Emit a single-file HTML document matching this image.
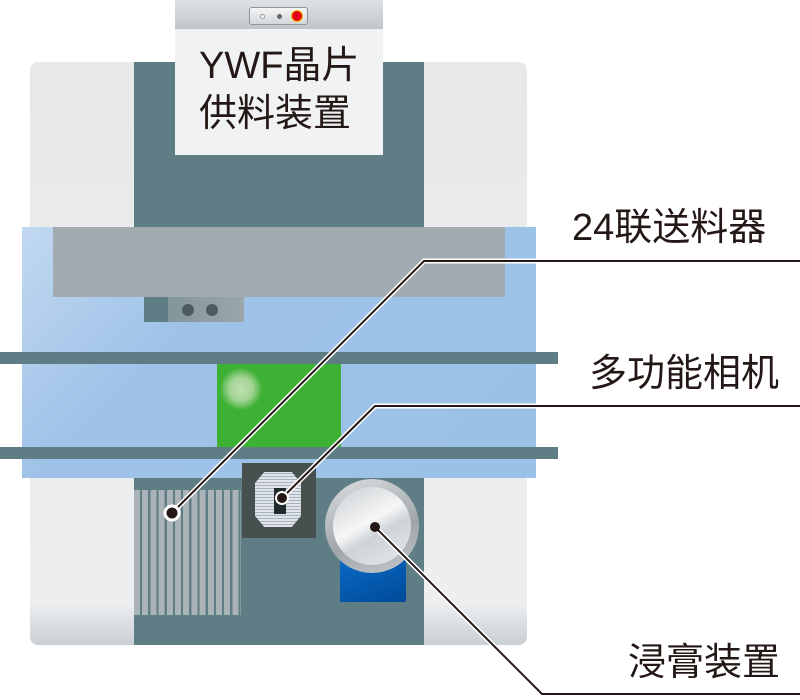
<!DOCTYPE html>
<html><head><meta charset="utf-8"><style>
html,body{margin:0;padding:0;background:#fff;}
body{width:800px;height:700px;position:relative;overflow:hidden;font-family:"Liberation Sans","Noto Sans CJK SC",sans-serif;}
div{position:absolute;box-sizing:border-box;}
.lbl{color:#231815;font-size:38px;white-space:nowrap;line-height:1;}
</style></head><body>
<div style="left:30px;top:62px;width:497px;height:583px;border-radius:8px;background:linear-gradient(#e6e8ea 0%,#eceef0 93%,#c9cfd2 100%);"></div>
<div style="left:134px;top:62px;width:290px;height:583px;background:#5f7d85;"></div>
<div style="left:175px;top:0;width:208px;height:155px;background:#f1f2f3;"></div>
<div style="left:175px;top:0;width:208px;height:29px;background:linear-gradient(#e0e3e5,#bfc5c8);"></div>
<div style="left:249px;top:7px;width:59px;height:18px;border:1px solid #8d9599;border-radius:3px;background:linear-gradient(#f4f5f6,#d3d7d9);"></div>
<div style="left:260px;top:14px;width:5px;height:5px;border-radius:50%;border:1px solid #999;background:#fff;"></div>
<div style="left:277px;top:14px;width:5px;height:5px;border-radius:50%;background:#666;"></div>
<div style="left:291px;top:10px;width:12px;height:12px;border-radius:50%;background:#e50012;border:1.5px solid #f3c300;"></div>
<div class="lbl" style="left:199px;top:47px;">YWF晶片</div>
<div class="lbl" style="left:199px;top:95px;">供料装置</div>
<div style="left:22px;top:227px;width:514px;height:251px;background:linear-gradient(135deg,#c2d8f0 0%,#9ec2e8 35%,#9cc1e7 100%);"></div>
<div style="left:53px;top:227px;width:452px;height:70px;background:#a1abb0;"></div>
<div style="left:144px;top:297px;width:100px;height:25px;background:linear-gradient(90deg,#7b9196,#9aa6aa);"></div>
<div style="left:144px;top:297px;width:24px;height:25px;background:#5f7d85;"></div>
<div style="left:182px;top:304px;width:12px;height:12px;border-radius:50%;background:#4d5b5e;"></div>
<div style="left:206px;top:304px;width:12px;height:12px;border-radius:50%;background:#4d5b5e;"></div>
<div style="left:0;top:352px;width:558px;height:12px;background:#5f7d85;"></div>
<div style="left:0;top:447px;width:558px;height:12px;background:#5f7d85;"></div>
<div style="left:217px;top:364px;width:124px;height:83px;background:#3db134;"></div>
<div style="left:220px;top:368px;width:42px;height:42px;border-radius:50%;background:radial-gradient(circle,#c0e0b2 0%,#a2d394 40%,rgba(61,177,52,0) 72%);"></div>
<div style="left:134px;top:478px;width:290px;height:167px;background:#5f7d85;"></div>
<div style="left:134px;top:490px;width:107px;height:125px;background:repeating-linear-gradient(90deg,#a9b3b8 0 6px,#5f7d85 6px 8.2px);"></div>
<div style="left:242px;top:463px;width:74px;height:75px;background:#48504f;"></div>
<div style="left:255px;top:472px;width:46px;height:55px;background:repeating-linear-gradient(0deg,#dfe5ea 0 2px,#a9b2b8 2px 3px);clip-path:polygon(20% 0,80% 0,100% 20%,100% 80%,80% 100%,20% 100%,0 80%,0 20%);"></div>
<div style="left:274px;top:488px;width:12px;height:26px;background:#1f2a2c;"></div>
<div style="left:340px;top:555px;width:66px;height:47px;border-radius:2px;background:linear-gradient(160deg,#0a6cc6,#004a9a);"></div>
<div style="left:325px;top:479px;width:94px;height:94px;border-radius:50%;background:linear-gradient(160deg,#dcdfe1,#9ea5a9 60%,#c7cbce);"></div>
<div style="left:333px;top:487px;width:78px;height:78px;border-radius:50%;background:linear-gradient(150deg,#c9cdd0 0%,#f5f6f7 45%,#cfd3d6 60%,#e7e9ea 100%);"></div>
<svg width="800" height="700" style="position:absolute;left:0;top:0;">
<g fill="none" stroke="#fff" stroke-width="5">
<polyline points="172,513 424,261 800,261"/>
<polyline points="282,498 375,406 800,406"/>
<polyline points="375,527 542,694 800,694"/>
</g>
<g fill="none" stroke="#231815" stroke-width="2">
<polyline points="172,513 424,261 800,261"/>
<polyline points="282,498 375,406 800,406"/>
<polyline points="375,527 542,694 800,694"/>
</g>
<circle cx="172" cy="513" r="7" fill="#231815" stroke="#fff" stroke-width="3"/>
<circle cx="282" cy="498" r="6" fill="#231815" stroke="#fff" stroke-width="2"/>
<circle cx="375" cy="527" r="5" fill="#231815"/>
</svg>
<div class="lbl" style="left:572px;top:209px;">24联送料器</div>
<div class="lbl" style="left:589px;top:355px;">多功能相机</div>
<div class="lbl" style="left:628px;top:644px;">浸膏装置</div>
</body></html>
